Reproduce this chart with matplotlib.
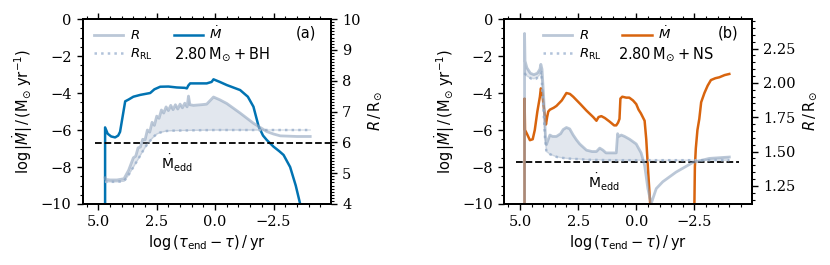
import numpy as np
import matplotlib
matplotlib.use("Agg")
import matplotlib.pyplot as plt
from matplotlib.ticker import MultipleLocator, FuncFormatter

plt.rcParams['font.family'] = ['DejaVu Sans']
plt.rcParams['mathtext.fontset'] = 'dejavusans'

# ---------------- data: panel (a) 2.80 Msun + BH ----------------
x_mdot_a = [4.71, 4.71, 4.6, 4.45, 4.28, 4.15, 4.07, 3.95, 3.85, 3.7, 3.5, 3.2, 2.78, 2.6,
            2.35, 2.0, 1.64, 1.3, 1.21, 1.15, 1.07, 0.7, 0.36, 0.15, 0.07, -0.2, -0.5,
            -1.07, -1.4, -1.64, -1.86, -2.05, -2.21, -2.5, -2.75, -2.93, -3.21, -3.45, -3.64]
mdot_a = [-10, -5.86, -6.2, -6.35, -6.4, -6.3, -6.1, -5.2, -4.45, -4.35, -4.2, -4.1, -4.0,
          -3.8, -3.66, -3.65, -3.7, -3.72, -3.75, -3.6, -3.48, -3.48, -3.48, -3.4, -3.26,
          -3.4, -3.57, -3.84, -4.2, -4.74, -5.8, -6.3, -6.54, -6.9, -7.15, -7.35, -8.0, -9.0, -10]

x_R_a = [4.71, 4.70, 4.5, 4.2, 3.9, 3.7, 3.5, 3.4, 3.3, 3.2, 3.1, 3.0, 2.9, 2.8, 2.7, 2.6,
         2.5, 2.4, 2.3, 2.2, 2.1, 2.0, 1.9, 1.8, 1.7, 1.6, 1.5, 1.4, 1.3, 1.2, 1.14, 1.08,
         0.93, 0.6, 0.36, 0.07, -0.2, -0.5, -1.07, -1.64, -2.0, -2.21, -2.5, -2.79, -3.5, -4.07]
R_a = [4.85, 4.80, 4.78, 4.78, 4.82, 5.10, 5.50, 5.55, 5.82, 5.85, 6.10, 6.08, 6.40, 6.33,
       6.65, 6.55, 6.85, 6.78, 7.05, 6.95, 7.15, 7.03, 7.20, 7.06, 7.22, 7.08, 7.24, 7.12,
       7.27, 7.15, 7.50, 7.22, 7.20, 7.22, 7.24, 7.47, 7.38, 7.26, 6.95, 6.62, 6.45, 6.35,
       6.27, 6.21, 6.19, 6.19]

x_RRL_a = [4.71, 4.5, 4.2, 3.9, 3.7, 3.5, 3.3, 3.07, 2.9, 2.64, 2.5, 2.35, 2.2, 2.07, 1.8,
           1.0, 0.0, -1.0, -2.0, -3.0, -4.07]
RRL_a = [4.72, 4.72, 4.72, 4.74, 4.95, 5.20, 5.45, 5.75, 5.95, 6.18, 6.27, 6.32, 6.35, 6.37,
         6.38, 6.39, 6.40, 6.40, 6.40, 6.40, 6.40]

medd_a = -6.72
x_edd_a = [5.14, -4.9]

# ---------------- data: panel (b) 2.80 Msun + NS ----------------
x_mdot_b1 = [4.8, 4.8, 4.78, 4.7, 4.57, 4.45, 4.36, 4.25, 4.14, 4.1, 4.05, 3.97, 3.88,
             3.83, 3.78, 3.71, 3.55, 3.43, 3.2, 3.0, 2.85, 2.71, 2.4, 2.14, 1.85, 1.71,
             1.62, 1.5, 1.35, 1.14, 0.95, 0.86, 0.78, 0.72, 0.68, 0.6, 0.43, 0.3, 0.14,
             0.0, -0.1, -0.2, -0.36, -0.43, -0.5, -0.6]
mdot_b1 = [-10, -4.3, -6.0, -6.2, -6.55, -6.5, -6.0, -5.0, -4.2, -3.75, -3.9, -4.8, -5.7,
           -5.3, -5.0, -4.9, -4.8, -4.7, -4.4, -4.0, -4.05, -4.2, -4.6, -4.95, -5.3, -5.5,
           -5.3, -5.25, -5.35, -5.55, -5.75, -5.75, -5.6, -5.4, -4.3, -4.2, -4.25, -4.25,
           -4.4, -4.6, -4.9, -5.1, -5.5, -6.5, -8.0, -10]
x_mdot_b2 = [-2.5, -2.52, -2.56, -2.63, -2.71, -2.79, -2.93, -3.07, -3.21, -3.4, -3.57,
             -3.8, -4.0]
mdot_b2 = [-10, -8.0, -7.0, -6.0, -5.4, -4.5, -4.0, -3.6, -3.3, -3.2, -3.15, -3.03, -2.97]

x_R_b = [4.8, 4.8, 4.78, 4.7, 4.55, 4.4, 4.25, 4.14, 4.1, 4.05, 3.97, 3.9, 3.86, 3.8, 3.71,
         3.6, 3.43, 3.25, 3.14, 3.0, 2.86, 2.71, 2.57, 2.43, 2.14, 1.9, 1.71, 1.57, 1.43,
         1.3, 1.14, 0.86, 0.8, 0.75, 0.64, 0.5, 0.29, 0.0, -0.21, -0.36, -0.5, -0.64,
         -0.86, -1.14, -1.71, -2.43, -3.14, -4.0]
R_b = [1.10, 2.36, 2.16, 2.11, 2.07, 2.06, 2.07, 2.10, 2.135, 2.10, 1.87, 1.60, 1.55, 1.58,
       1.62, 1.61, 1.61, 1.63, 1.66, 1.675, 1.665, 1.62, 1.585, 1.555, 1.51, 1.50, 1.50,
       1.525, 1.51, 1.49, 1.49, 1.49, 1.63, 1.61, 1.62, 1.61, 1.59, 1.555, 1.49, 1.40,
       1.23, 1.12, 1.23, 1.28, 1.35, 1.42, 1.45, 1.46]

x_RRL_b = [4.8, 4.7, 4.5, 4.3, 4.14, 4.08, 4.0, 3.92, 3.86, 3.7, 3.4, 3.0, 2.5, 2.0, 1.0,
           0.0, -1.0, -2.0, -3.0, -4.0]
RRL_b = [2.07, 2.05, 2.03, 2.03, 2.06, 2.08, 1.85, 1.60, 1.50, 1.48, 1.46, 1.45, 1.445,
         1.44, 1.437, 1.437, 1.437, 1.437, 1.437, 1.437]

medd_b = -7.71
x_edd_b = [5.17, -4.43]

# ---------------- styling ----------------
C_R = '#8ea3bd'
C_RRL = '#a9bcd6'
C_BLUE = '#0173b2'
C_ORANGE = '#d8640e'
SERIF = 'DejaVu Serif'

fig = plt.figure(figsize=(8.3, 2.65), dpi=100)


def fmt(pattern):
    return FuncFormatter(lambda v, p: (pattern % v).replace('-', '\u2212'))


def make_panel(rect, x_md_list, md_list, mcolor, xR, R, xRRL, RRL, medd, x_edd,
               rlim, rmajor, rminor, rfmt, tag, sysname, edd_pos, leg_x, sys_x, tag_x):
    ax = fig.add_axes(rect)
    for xm, m in zip(x_md_list, md_list):
        ax.plot(xm, m, color=mcolor, lw=1.8, zorder=3)
    ax.plot(x_edd, [medd, medd], color='black', ls='--', lw=1.3, zorder=4)
    ax.text(edd_pos[0], edd_pos[1], r'$\dot{\mathrm{M}}_{\mathrm{edd}}$', ha='center',
            va='center', fontsize=10)
    ax.set_xlim(5.67, -4.96)
    ax.set_ylim(-10, 0)
    ax.xaxis.set_major_locator(MultipleLocator(2.5))
    ax.xaxis.set_minor_locator(MultipleLocator(0.5))
    ax.yaxis.set_major_locator(MultipleLocator(2))
    ax.yaxis.set_minor_locator(MultipleLocator(0.5))
    ax.xaxis.set_major_formatter(fmt('%.1f'))
    ax.yaxis.set_major_formatter(fmt('%d'))
    ax.tick_params(which='both', direction='out', top=True, bottom=True, left=True,
                   right=False, labelsize=10.5, labelfontfamily=SERIF)
    ax.tick_params(which='major', length=4.5, width=1.0)
    ax.tick_params(which='minor', length=2.5, width=0.8)
    ax.set_xlabel(r'log$\,(\tau_{\mathrm{end}}-\tau)\,/\,$yr', fontsize=10.5, labelpad=3)
    ax.set_ylabel(r'log$\,|\dot{M}|\,/\,(\mathrm{M}_{\odot}\;\mathrm{yr}^{-1})$', fontsize=10.5,
                  labelpad=4)

    ax2 = ax.twinx()
    xr = np.array(xR)
    Rv = np.array(R)
    rrl_on_R = np.interp(xr[::-1], np.array(xRRL)[::-1], np.array(RRL)[::-1])[::-1]
    ax2.fill_between(xr, rrl_on_R, Rv, where=Rv >= rrl_on_R, interpolate=True,
                     color=C_R, alpha=0.25, lw=0)
    ax2.plot(xRRL, RRL, color=C_RRL, ls=':', lw=1.8, alpha=0.9)
    ax2.plot(xr, rrl_on_R, color=C_R, lw=1.0, alpha=0.35)
    ax2.plot(xr, Rv, color=C_R, lw=2.0, alpha=0.6)
    ax2.set_ylim(*rlim)
    ax2.yaxis.set_major_locator(MultipleLocator(rmajor))
    ax2.yaxis.set_minor_locator(MultipleLocator(rminor))
    ax2.yaxis.set_major_formatter(fmt(rfmt))
    ax2.tick_params(which='both', direction='out', labelsize=10.5, labelfontfamily=SERIF)
    ax2.tick_params(which='major', length=4.5, width=1.0)
    ax2.tick_params(which='minor', length=2.5, width=0.8)
    ax2.set_ylabel(r'$R\,/\,\mathrm{R}_{\odot}$', fontsize=10.5, labelpad=4)
    for a in (ax, ax2):
        for s in a.spines.values():
            s.set_linewidth(1.4)

    h1, = ax2.plot([], [], color=C_R, lw=2.0, alpha=0.6, label=r'$R$')
    h2, = ax2.plot([], [], color=C_RRL, ls=':', lw=1.8, alpha=0.9, label=r'$R_{\mathrm{RL}}$')
    h3, = ax2.plot([], [], color=mcolor, lw=1.8, label=r'$\dot{M}$')
    ax2.legend(handles=[h1, h2, h3], ncol=2, loc='upper left', bbox_to_anchor=(leg_x, 1.0),
               frameon=False, fontsize=9.5, handlelength=2.2, columnspacing=1.6,
               handletextpad=0.5, labelspacing=0.35, borderaxespad=0.1)
    ax2.text(sys_x, 0.81, sysname, transform=ax2.transAxes, ha='left', va='center',
             fontsize=10.5)
    ax2.text(tag_x, 0.925, tag, transform=ax2.transAxes, ha='right', va='center',
             fontsize=10.5)
    return ax, ax2


make_panel([0.0996, 0.2302, 0.2992, 0.698], [x_mdot_a], [mdot_a], C_BLUE,
           x_R_a, R_a, x_RRL_a, RRL_a, medd_a, x_edd_a,
           (4, 10), 1, 0.1, '%d', '(a)', r'$2.80\,\mathrm{M}_{\odot}+\mathrm{BH}$',
           (1.64, -7.8), 0.02, 0.366, 0.94)

make_panel([0.6076, 0.2302, 0.298, 0.698], [x_mdot_b1, x_mdot_b2], [mdot_b1, mdot_b2],
           C_ORANGE, x_R_b, R_b, x_RRL_b, RRL_b, medd_b, x_edd_b,
           (1.118, 2.465), 0.25, 0.05, '%.2f', '(b)', r'$2.80\,\mathrm{M}_{\odot}+\mathrm{NS}$',
           (1.4, -8.85), 0.13, 0.46, 0.945)

fig.savefig('out.png', dpi=100)
